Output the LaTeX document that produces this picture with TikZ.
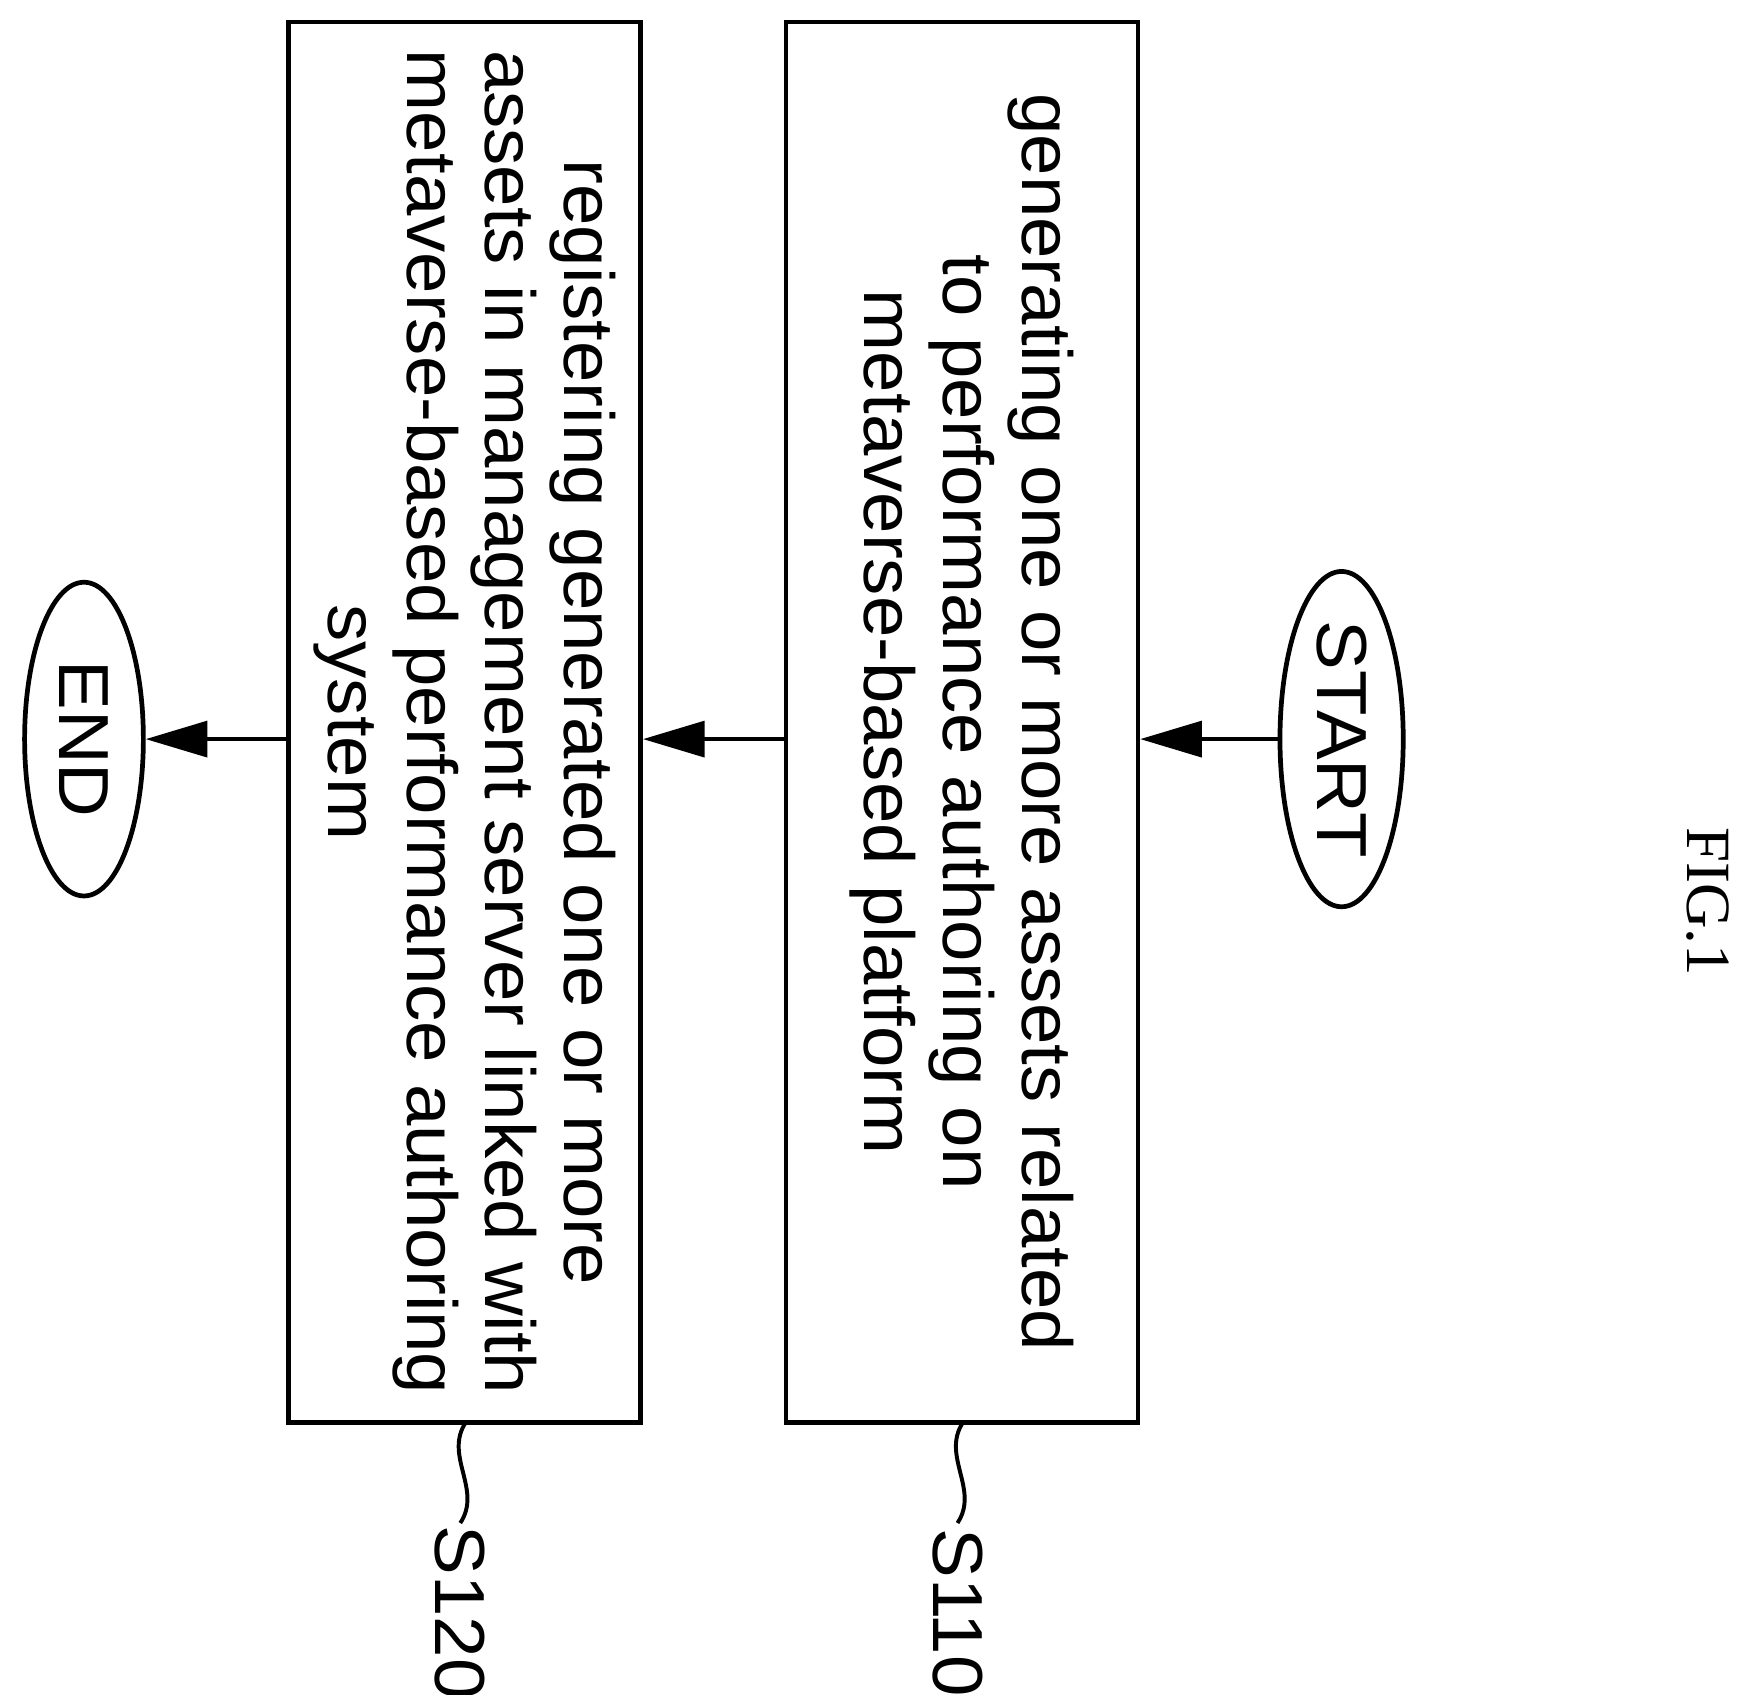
\documentclass[tikz,border=0pt]{standalone}
\usepackage{fontspec}
\setmainfont{Liberation Sans}[FakeStretch=1.05]
\newfontfamily\figfont{Liberation Serif}
\usetikzlibrary{shapes.geometric,arrows.meta}
\begin{document}
\begin{tikzpicture}[x=0.01cm,y=-0.01cm,
  box/.style={draw,line width=1.2pt,minimum width=12.5cm,minimum height=3.14cm,rotate=-90,align=center,
    font=\fontsize{18}{20}\selectfont,inner sep=0pt},
  term/.style={draw,ellipse,line width=1.2pt,rotate=-90,font=\fontsize{18}{20}\selectfont,inner sep=0pt},
  arr/.style={line width=1pt,-{Triangle[length=0.55cm,width=0.32cm]}},
  lab/.style={rotate=-90,font=\fontsize{18}{20}\selectfont}]
\useasboundingbox (0,0) rectangle (1560,1513);
\node[box] (s110) at (859,645) {generating one or more assets related\\to performance authoring on\\metaverse-based platform};
\node[box] (s120) at (415,645) {registering generated one or more\\assets in management server linked with\\metaverse-based performance authoring\\system};
\node[term,minimum width=2.9cm,minimum height=1.1cm] (start) at (1198,660) {START};
\node[term,minimum width=2.8cm,minimum height=1.06cm] (end) at (75,660) {END};
\draw[arr] (start.south) -- (start.south -| s110.north);
\draw[arr] (s110.south |- start) -- (s120.north |- start);
\draw[arr] (s120.south |- start) -- (end.north);
\coordinate (a1) at (860,1270);
\coordinate (a2) at (855,1360);
\draw[line width=1pt] (a1) .. controls (840,1300) and (875,1330) .. (a2);
\node[lab] (l110) at (855,1440) {S110};
\coordinate (b1) at (416,1270);
\coordinate (b2) at (411,1360);
\draw[line width=1pt] (b1) .. controls (396,1300) and (431,1330) .. (b2);
\node[lab] (l120) at (411,1440) {S120};
\node[rotate=-90,font=\figfont\fontsize{16}{18}\selectfont] (fig) at (1525,805) {FIG.1};
\end{tikzpicture}
\end{document}
